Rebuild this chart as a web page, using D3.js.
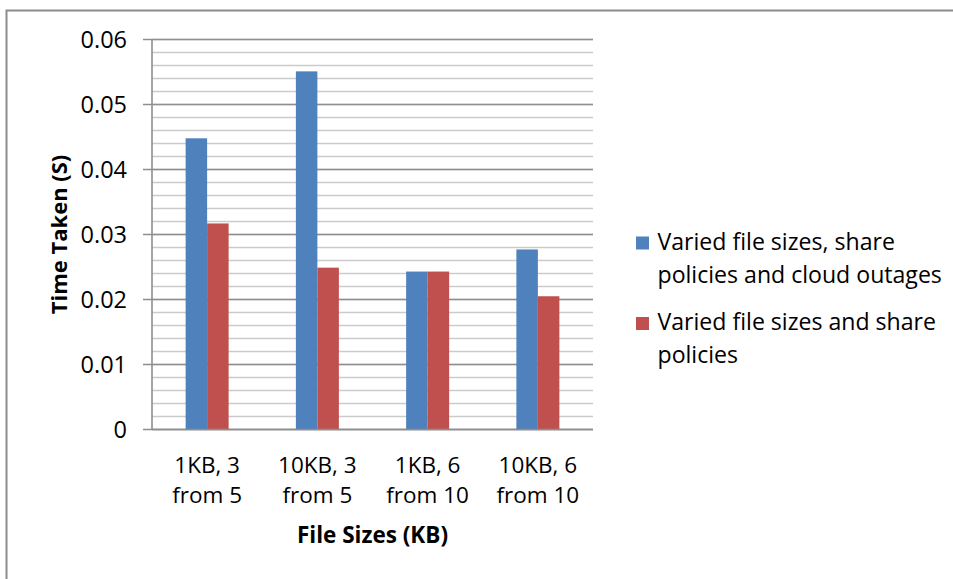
<!DOCTYPE html>
<html>
<head>
<meta charset="utf-8">
<script src="https://cdn.jsdelivr.net/npm/d3@7"></script>
<style>
  html, body { margin: 0; padding: 0; background: #fff; }
  svg { display: block; font-family: "Open Sans", "Liberation Sans", sans-serif; }
</style>
</head>
<body>
<svg id="chart" width="953" height="579"></svg>
<script>
// Category labels (two lines each)
const categories = [
  ["1KB, 3", "from 5"],
  ["10KB, 3", "from 5"],
  ["1KB, 6", "from 10"],
  ["10KB, 6", "from 10"]
];
// Series names (legend text, wrapped)
const seriesNames = [
  ["Varied file sizes, share", "policies and cloud outages"],
  ["Varied file sizes and share", "policies"]
];
// Time taken in seconds
const withOutages = [0.0448, 0.0551, 0.0243, 0.0277];
const withoutOutages = [0.0317, 0.0249, 0.0243, 0.0205];
const seriesColors = ["#4F81BD", "#C0504D"];
const yTicks = [0, 0.01, 0.02, 0.03, 0.04, 0.05, 0.06];
const yMinorStep = 0.002;

const svg = d3.select("#chart");

// outer chart frame
svg.append("rect")
  .attr("x", 6.5).attr("y", 10.5)
  .attr("width", 1000).attr("height", 1000)
  .attr("fill", "none").attr("stroke", "#8c8c8c").attr("stroke-width", 2);

const plot = { left: 152, right: 593, top: 39.5, bottom: 429.5 };

const x = d3.scaleBand()
  .domain(d3.range(categories.length))
  .range([plot.left, plot.right]);

const y = d3.scaleLinear()
  .domain([0, 0.06])
  .range([plot.bottom, plot.top]);

// minor gridlines
const minor = d3.range(0, 0.06 + 1e-9, yMinorStep);
svg.append("g").selectAll("line")
  .data(minor)
  .join("line")
  .attr("x1", plot.left).attr("x2", plot.right)
  .attr("y1", d => y(d)).attr("y2", d => y(d))
  .attr("stroke", "#cbcbcb").attr("stroke-width", 1.6);

// major gridlines
svg.append("g").selectAll("line")
  .data(yTicks)
  .join("line")
  .attr("x1", plot.left - 9).attr("x2", plot.right)
  .attr("y1", d => y(d)).attr("y2", d => y(d))
  .attr("stroke", "#8e8e8e").attr("stroke-width", 1.6);

// bars
const barW = 21.5;
const data = [withOutages, withoutOutages];
data.forEach((vals, si) => {
  svg.append("g").selectAll("rect")
    .data(vals)
    .join("rect")
    .attr("x", (d, i) => x(i) + x.bandwidth() / 2 - barW + si * barW)
    .attr("y", d => y(d))
    .attr("width", barW)
    .attr("height", d => plot.bottom - y(d))
    .attr("fill", seriesColors[si]);
});

// y axis line
svg.append("line")
  .attr("x1", plot.left).attr("x2", plot.left)
  .attr("y1", plot.top).attr("y2", plot.bottom)
  .attr("stroke", "#8e8e8e").attr("stroke-width", 1.6);
// x axis line
svg.append("line")
  .attr("x1", plot.left).attr("x2", plot.right)
  .attr("y1", plot.bottom).attr("y2", plot.bottom)
  .attr("stroke", "#8e8e8e").attr("stroke-width", 1.6);

// y tick labels
svg.append("g").selectAll("text")
  .data(yTicks)
  .join("text")
  .attr("x", 127)
  .attr("y", d => y(d) + 8.5)
  .attr("text-anchor", "end")
  .attr("font-size", 23.5)
  .attr("fill", "#000")
  .text(d => d === 0 ? "0" : d3.format(".2f")(d));

// category labels
const cat = svg.append("g").selectAll("text")
  .data(categories)
  .join("text")
  .attr("text-anchor", "middle")
  .attr("font-size", 22.5)
  .attr("fill", "#000");
cat.each(function(lines, i) {
  const t = d3.select(this);
  lines.forEach((ln, k) => {
    t.append("tspan")
      .attr("x", x(i) + x.bandwidth() / 2)
      .attr("y", 472.5 + k * 30.5)
      .text(ln);
  });
});

// axis titles
svg.append("text")
  .attr("x", (plot.left + plot.right) / 2)
  .attr("y", 542.5)
  .attr("text-anchor", "middle")
  .attr("font-size", 22.5)
  .attr("font-weight", "bold")
  .attr("fill", "#000")
  .text("File Sizes (KB)");

svg.append("text")
  .attr("transform", `translate(67,${(plot.top + plot.bottom) / 2}) rotate(-90)`)
  .attr("text-anchor", "middle")
  .attr("font-size", 22)
  .attr("font-weight", "bold")
  .attr("fill", "#000")
  .text("Time Taken (S)");

// legend
const legendTop = [249.5, 330];
seriesNames.forEach((lines, si) => {
  const g = svg.append("g");
  g.append("rect")
    .attr("x", 636).attr("y", legendTop[si] - 13)
    .attr("width", 13).attr("height", 13)
    .attr("fill", seriesColors[si]);
  const t = g.append("text")
    .attr("font-size", 23.1)
    .attr("fill", "#000");
  lines.forEach((ln, k) => {
    t.append("tspan")
      .attr("x", 657.5)
      .attr("y", legendTop[si] + k * 33.3)
      .text(ln);
  });
});
</script>
</body>
</html>
